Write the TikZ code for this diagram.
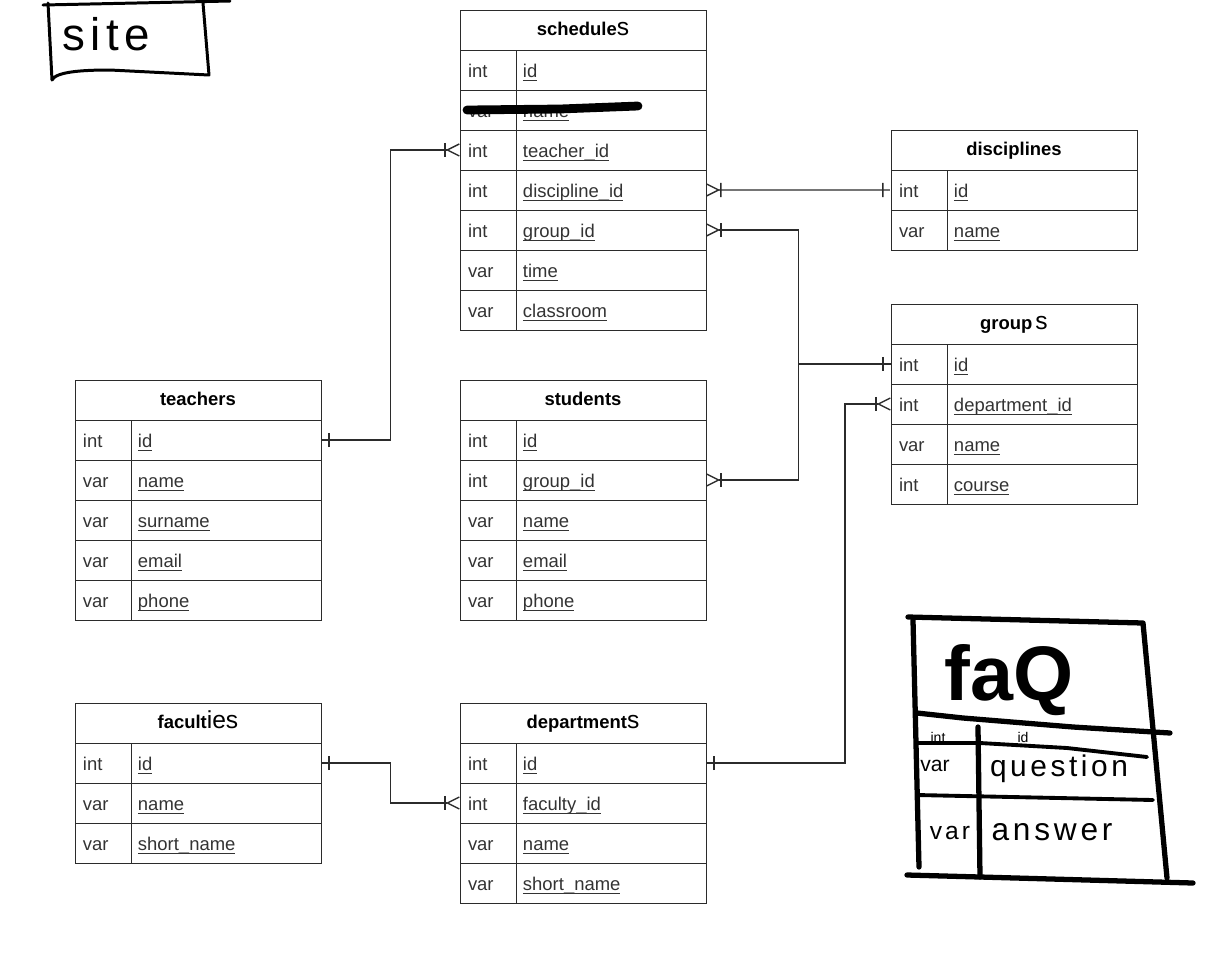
\documentclass[tikz,border=0pt]{standalone}
\usepackage{fontspec}
\setmainfont{Liberation Sans}
\newfontfamily\handfont{Liberation Sans}[LetterSpace=12]
\usepackage{xcolor}
\usepackage{tikz}
\usetikzlibrary{arrows.meta,positioning,calc}
\definecolor{tabline}{HTML}{2B2B2B}
\definecolor{typegray}{HTML}{333333}
\newcommand{\fld}[1]{\underline{\smash{#1}}}
\tikzset{
    head/.style={draw=tabline, rectangle, inner sep=0pt, outer sep=0pt, minimum width=4.92cm, minimum height=0.8cm, text height=8pt, text depth=1.5pt, font=\fontsize{10.5}{12}\selectfont\bfseries},
    tcell/.style={draw=tabline, rectangle, inner xsep=0.16cm, inner ysep=0pt, outer sep=0pt, text width=0.8cm, minimum height=0.8cm, text height=10pt, text depth=1.5pt, align=left, text=typegray, font=\fontsize{10.5}{12}\selectfont},
    fcell/.style={tcell, inner xsep=0.14cm, text width=3.52cm},
    hand/.style={line width=#1, line cap=round, line join=round}, hand/.default={1.7pt},
    many/.tip={Bar[width=8pt,sep=0pt] Straight Barb[reversed,length=6.8pt,width=6.8pt]},
    one/.tip={Bar[width=8pt,sep=3.4pt] Bar[width=0pt,sep=0pt]}}

\begin{document}
\begin{tikzpicture}[x=0.02cm, y=-0.02cm]
\tikzstyle{link}=[draw=tabline, line width=0.8pt]
    \useasboundingbox (0,0) rectangle (1228,975);

    % schedules
    \node (sch)[head, anchor=north west] at (460,10) {schedule{\mdseries\fontsize{14}{14}\selectfont s}};
    \node (sch-1t)[tcell, anchor=north west] at (sch.south west) {int};
    \node (sch-1)[fcell, right=0pt of sch-1t] {\fld{id}};
    \node (sch-2t)[tcell, below=0pt of sch-1t] {var};
    \node (sch-2)[fcell, right=0pt of sch-2t] {\fld{name}};
    \node (sch-3t)[tcell, below=0pt of sch-2t] {int};
    \node (sch-3)[fcell, right=0pt of sch-3t] {\fld{teacher\_id}};
    \node (sch-4t)[tcell, below=0pt of sch-3t] {int};
    \node (sch-4)[fcell, right=0pt of sch-4t] {\fld{discipline\_id}};
    \node (sch-5t)[tcell, below=0pt of sch-4t] {int};
    \node (sch-5)[fcell, right=0pt of sch-5t] {\fld{group\_id}};
    \node (sch-6t)[tcell, below=0pt of sch-5t] {var};
    \node (sch-6)[fcell, right=0pt of sch-6t] {\fld{time}};
    \node (sch-7t)[tcell, below=0pt of sch-6t] {var};
    \node (sch-7)[fcell, right=0pt of sch-7t] {\fld{classroom}};

    % disciplines
    \node (dis)[head, anchor=north west] at (891,130) {disciplines};
    \node (dis-1t)[tcell, anchor=north west] at (dis.south west) {int};
    \node (dis-1)[fcell, right=0pt of dis-1t] {\fld{id}};
    \node (dis-2t)[tcell, below=0pt of dis-1t] {var};
    \node (dis-2)[fcell, right=0pt of dis-2t] {\fld{name}};

    % groups
    \node (grp)[head, anchor=north west] at (891,304) {group\,{\mdseries\fontsize{14}{14}\selectfont s}};
    \node (grp-1t)[tcell, anchor=north west] at (grp.south west) {int};
    \node (grp-1)[fcell, right=0pt of grp-1t] {\fld{id}};
    \node (grp-2t)[tcell, below=0pt of grp-1t] {int};
    \node (grp-2)[fcell, right=0pt of grp-2t] {\fld{department\_id}};
    \node (grp-3t)[tcell, below=0pt of grp-2t] {var};
    \node (grp-3)[fcell, right=0pt of grp-3t] {\fld{name}};
    \node (grp-4t)[tcell, below=0pt of grp-3t] {int};
    \node (grp-4)[fcell, right=0pt of grp-4t] {\fld{course}};

    % teachers
    \node (tea)[head, anchor=north west] at (75,380) {teachers};
    \node (tea-1t)[tcell, anchor=north west] at (tea.south west) {int};
    \node (tea-1)[fcell, right=0pt of tea-1t] {\fld{id}};
    \node (tea-2t)[tcell, below=0pt of tea-1t] {var};
    \node (tea-2)[fcell, right=0pt of tea-2t] {\fld{name}};
    \node (tea-3t)[tcell, below=0pt of tea-2t] {var};
    \node (tea-3)[fcell, right=0pt of tea-3t] {\fld{surname}};
    \node (tea-4t)[tcell, below=0pt of tea-3t] {var};
    \node (tea-4)[fcell, right=0pt of tea-4t] {\fld{email}};
    \node (tea-5t)[tcell, below=0pt of tea-4t] {var};
    \node (tea-5)[fcell, right=0pt of tea-5t] {\fld{phone}};

    % students
    \node (stu)[head, anchor=north west] at (460,380) {students};
    \node (stu-1t)[tcell, anchor=north west] at (stu.south west) {int};
    \node (stu-1)[fcell, right=0pt of stu-1t] {\fld{id}};
    \node (stu-2t)[tcell, below=0pt of stu-1t] {int};
    \node (stu-2)[fcell, right=0pt of stu-2t] {\fld{group\_id}};
    \node (stu-3t)[tcell, below=0pt of stu-2t] {var};
    \node (stu-3)[fcell, right=0pt of stu-3t] {\fld{name}};
    \node (stu-4t)[tcell, below=0pt of stu-3t] {var};
    \node (stu-4)[fcell, right=0pt of stu-4t] {\fld{email}};
    \node (stu-5t)[tcell, below=0pt of stu-4t] {var};
    \node (stu-5)[fcell, right=0pt of stu-5t] {\fld{phone}};

    % faculties
    \node (fac)[head, anchor=north west] at (75,703) {facult{\mdseries\fontsize{14}{14}\selectfont ies}};
    \node (fac-1t)[tcell, anchor=north west] at (fac.south west) {int};
    \node (fac-1)[fcell, right=0pt of fac-1t] {\fld{id}};
    \node (fac-2t)[tcell, below=0pt of fac-1t] {var};
    \node (fac-2)[fcell, right=0pt of fac-2t] {\fld{name}};
    \node (fac-3t)[tcell, below=0pt of fac-2t] {var};
    \node (fac-3)[fcell, right=0pt of fac-3t] {\fld{short\_name}};

    % departments
    \node (dep)[head, anchor=north west] at (460,703) {department{\mdseries\fontsize{14}{14}\selectfont s}};
    \node (dep-1t)[tcell, anchor=north west] at (dep.south west) {int};
    \node (dep-1)[fcell, right=0pt of dep-1t] {\fld{id}};
    \node (dep-2t)[tcell, below=0pt of dep-1t] {int};
    \node (dep-2)[fcell, right=0pt of dep-2t] {\fld{faculty\_id}};
    \node (dep-3t)[tcell, below=0pt of dep-2t] {var};
    \node (dep-3)[fcell, right=0pt of dep-3t] {\fld{name}};
    \node (dep-4t)[tcell, below=0pt of dep-3t] {var};
    \node (dep-4)[fcell, right=0pt of dep-4t] {\fld{short\_name}};

    % relations
    \draw[link, one-many] (tea-1.east) -| ($(tea-1.east)!.5!(sch-3t.west)$) |- (sch-3t.west);
    \draw[link, many-one] (sch-4.east) -- (dis-1t.west);
    \draw[link, many-one] (sch-5.east) -| ($(sch-5.east)!.5!(grp-1t.west)$) |- (grp-1t.west);
    \draw[link, many-] (stu-2.east) -| ($(stu-2.east)!.5!(grp-1t.west)$) |- (grp-1t.west);
    \draw[link, one-many] (dep-1.east) -- ++(139,0) |- (grp-2t.west);
    \draw[link, one-many] (fac-1.east) -| ($(fac-1.east)!.5!(dep-2t.west)$) |- (dep-2t.west);

    % scribbles
    \draw[hand=5pt] (467,110) -- (560,109) -- (638,106);
    \draw[hand] (43,5) -- (230,1);
    \draw[hand] (48,3) -- (52,80) .. controls (56,72) and (80,70) .. (110,70) -- (209,75) -- (203,3);
    \node (site) at (106,34) {\handfont\fontsize{26}{26}\selectfont site};

    % faq
    \draw[hand=3pt] (908,617) -- (1143,623) -- (1167,878);
    \draw[hand=3pt] (913,620) -- (919,867);
    \draw[hand=3pt] (907,875) -- (980,877) -- (1193,883);
    \draw[hand=3pt] (917,713) -- (963,718) -- (1073,727) -- (1170,733);
    \draw[hand=2.2pt] (917,743) -- (980,743) -- (1067,748) -- (1147,757);
    \draw[hand=2.2pt] (917,795) -- (1153,800);
    \draw[hand=3pt] (978,727) -- (980,877);
    \node (faq) at (1009,680) {\fontsize{44}{44}\selectfont\bfseries faQ};
    \node (faq-1t) at (938,737) {\fontsize{8}{8}\selectfont int};
    \node (faq-1) at (1023,737) {\fontsize{8}{8}\selectfont id};
    \node (faq-2t) at (935,766) {\fontsize{12}{12}\selectfont var};
    \node (faq-2) at (1059,769) {\handfont\fontsize{17}{17}\selectfont question};
    \node (faq-3t) at (950,833) {\handfont\fontsize{14}{14}\selectfont var};
    \node (faq-3) at (1052,832) {\handfont\fontsize{18}{18}\selectfont answer};
\end{tikzpicture}
\end{document}
